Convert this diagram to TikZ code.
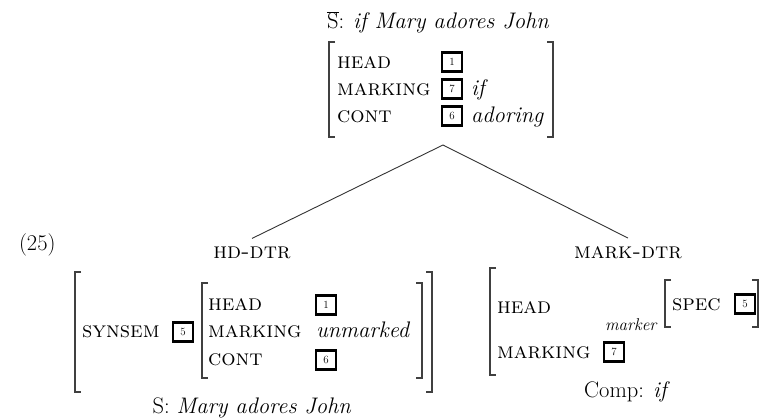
\documentclass[tikz,border=0pt]{standalone}
\usepackage{fontspec}
\begin{document}
\begin{tikzpicture}[x=1pt,y=-1pt,
  every node/.style={inner sep=0pt,outer sep=0pt},
  txt/.style={anchor=base west},
  ctr/.style={anchor=base},
  tag/.style={draw,line width=2.4pt,minimum width=20pt,minimum height=19pt,inner sep=0pt,font=\fontsize{11}{11}\selectfont},
  brk/.style={line width=1.1pt,black!75},
  branch/.style={line width=0.9pt,black!80}]
\fontsize{22.5}{26}\selectfont
\useasboundingbox (0,0) rectangle (760,420);
\newcommand\lbrk[3]{\draw[brk] (#1+6,#2) -- (#1,#2) -- (#1,#3) -- (#1+6,#3);}
\newcommand\rbrk[3]{\draw[brk] (#1-6,#2) -- (#1,#2) -- (#1,#3) -- (#1-6,#3);}
% top
\node[txt] (title) at (327,29) {$\overline{\mathrm{S}}$: \textit{if Mary adores John}};
\lbrk{329}{42}{137}
\rbrk{553}{42}{137}
\node[txt] (th) at (337,68) {\textsc{head}};
\node[txt] (tm) at (337,95) {\textsc{marking}};
\node[txt] (tc) at (337,122) {\textsc{cont}};
\node[tag] (tb1) at (452,62) {1};
\node[tag] (tb7) at (452,89) {7};
\node[tag] (tb6) at (452,116) {6};
\node[txt] (tif) at (471,95) {\textit{if}};
\node[txt] (tad) at (471,122) {\textit{adoring}};
\coordinate (apex) at (443,145);
% label
\node[txt] (num) at (19,250) {(25)};
% daughters
\node[ctr] (hd) at (252,258) {\textsc{hd-dtr}};
\node[ctr] (mk) at (628,258) {\textsc{mark-dtr}};
\draw[branch] (apex) -- ([yshift=8pt]hd.north);
\draw[branch] (apex) -- ([yshift=8pt]mk.north);
% left AVM
\lbrk{75}{272}{392}
\rbrk{432}{272}{392}
\lbrk{202}{283}{378}
\rbrk{422}{283}{378}
\node[txt] (syn) at (82,337) {\textsc{synsem}};
\node[tag] (lb5) at (183,332) {5};
\node[txt] (lh) at (208,310) {\textsc{head}};
\node[txt] (lm) at (208,337) {\textsc{marking}};
\node[txt] (lc) at (208,365) {\textsc{cont}};
\node[tag] (lb1) at (326,305) {1};
\node[txt] (lun) at (316,337) {\textit{unmarked}};
\node[tag] (lb6) at (326,360) {6};
\node[ctr] (lcap) at (252,413) {S: \textit{Mary adores John}};
% right AVM
\lbrk{490}{268}{375}
\lbrk{665}{280}{327}
\rbrk{758}{280}{327}
\node[txt] (rh) at (497,313) {\textsc{head}};
\node[txt] (rm) at (497,358) {\textsc{marking}};
\node[tag] (rb7) at (614,352) {7};
\node[txt,font=\fontsize{17}{20}\selectfont] (mkr) at (605,330) {\textit{marker}};
\node[txt] (spec) at (672,310) {\textsc{spec}};
\node[tag] (rb5) at (745,304) {5};
\node[ctr] (rcap) at (627,397) {Comp: \textit{if}};
\end{tikzpicture}
\end{document}
